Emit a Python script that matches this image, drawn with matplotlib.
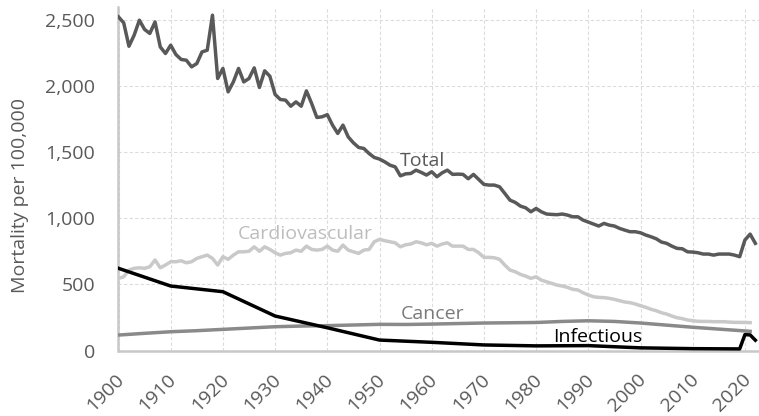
import matplotlib
matplotlib.use("Agg")
import matplotlib.pyplot as plt
import matplotlib.transforms as mtransforms
from matplotlib.ticker import FuncFormatter

plt.rcParams['font.family'] = ['Open Sans', 'DejaVu Sans']

# Age-adjusted mortality per 100,000, by year
total_years = list(range(1900, 2023))
total = [
    2525, 2480, 2303, 2387, 2500, 2430, 2400, 2487, 2298, 2248,
    2311, 2240, 2203, 2197, 2147, 2172, 2260, 2273, 2538, 2059,
    2135, 1958, 2033, 2135, 2033, 2059, 2139, 1991, 2117, 2076,
    1938, 1900, 1895, 1849, 1882, 1849, 1965, 1870, 1764, 1769,
    1785, 1706, 1643, 1706, 1617, 1572, 1537, 1529, 1491, 1461,
    1449, 1428, 1403, 1390, 1322, 1337, 1340, 1365, 1348, 1328,
    1353, 1315, 1345, 1365, 1333, 1335, 1333, 1300, 1333, 1295,
    1257, 1252, 1252, 1239, 1189, 1138, 1121, 1093, 1080, 1050,
    1075, 1050, 1033, 1030, 1028, 1033, 1025, 1012, 1012, 987,
    972, 957, 942, 962, 949, 942, 924, 911, 899, 899,
    891, 874, 861, 846, 821, 811, 790, 773, 770, 747,
    745, 740, 730, 730, 722, 730, 730, 730, 722, 710,
    836, 881, 811,
]

cardio_years = list(range(1900, 2022))
cardio = [
    546, 558, 609, 622, 626, 622, 634, 685, 626, 647,
    672, 672, 679, 664, 672, 697, 710, 722, 697, 647,
    710, 690, 722, 747, 747, 751, 785, 751, 785, 765,
    740, 722, 735, 740, 760, 751, 790, 765, 760, 765,
    790, 760, 751, 798, 760, 747, 735, 760, 765, 823,
    841, 831, 823, 815, 785, 800, 806, 823, 815, 800,
    811, 790, 806, 815, 790, 790, 790, 765, 765, 740,
    705, 705, 702, 690, 647, 609, 596, 576, 563, 546,
    558, 533, 520, 508, 495, 488, 478, 463, 458, 437,
    420, 407, 402, 400, 395, 387, 377, 367, 362, 352,
    339, 327, 312, 301, 286, 276, 261, 248, 241, 231,
    225, 221, 220, 220, 218, 218, 218, 215, 213, 213,
    212, 211,
]

cancer_years = [1900, 1905, 1910, 1915, 1920, 1925, 1930, 1935, 1940, 1945,
                1950, 1955, 1960, 1965, 1970, 1975, 1980, 1985, 1990, 1995,
                2000, 2005, 2010, 2015, 2020, 2021]
cancer = [117, 130, 142, 150, 160, 170, 180, 185, 188, 193,
          198, 197, 200, 204, 208, 210, 212, 220, 225, 220,
          208, 192, 176, 162, 148, 145]

infect_years = [1900, 1910, 1920, 1930, 1940, 1950, 1960, 1970, 1980, 1990,
                2000, 2010, 2019, 2020, 2021, 2022]
infect = [622, 488, 445, 261, 172, 79, 62, 42, 35, 37,
          20, 14, 12, 120, 118, 78]

x_ticks = list(range(1900, 2021, 10))
y_ticks = [0, 500, 1000, 1500, 2000, 2500]

W, H = 759, 416
fig = plt.figure(figsize=(W / 100, H / 100), dpi=100)
ax = fig.add_axes([118.5 / W, (H - 350.5) / H, 640.5 / W, 343.5 / H])

lw = 2.5
ax.plot(total_years, total, color='#595959', lw=lw, solid_joinstyle='round', zorder=3)
ax.plot(cardio_years, cardio, color='#c9c9c9', lw=lw, solid_joinstyle='round', zorder=3)
ax.plot(cancer_years, cancer, color='#8a8a8a', lw=lw, solid_joinstyle='round', zorder=4)
ax.plot(infect_years, infect, color='#000000', lw=lw, solid_joinstyle='round', zorder=5)

txt = dict(fontsize=14, ha='center', va='baseline')
ax.text(1958.3, 1398, 'Total', color='#595959', **txt)
ax.text(1935.7, 841, 'Cardiovascular', color='#bdbdbd', **txt)
ax.text(1960.2, 236, 'Cancer', color='#7a7a7a', **txt)
ax.text(1991.8, 64, 'Infectious', color='#000000', **txt)

ax.set_xlim(1900, 2022.7)
ax.set_ylim(0, 2600)
ax.set_xticks(x_ticks)
ax.set_yticks(y_ticks)
ax.yaxis.set_major_formatter(FuncFormatter(lambda v, p: f'{int(v):,}'))

ax.grid(True, color='#dcdcdc', lw=0.8, ls=(0, (3, 2)))
ax.set_axisbelow(True)
for s in ('top', 'right'):
    ax.spines[s].set_visible(False)
for s in ('left', 'bottom'):
    ax.spines[s].set_color('#c8c8c8')
    ax.spines[s].set_linewidth(1.8)

ax.tick_params(axis='both', length=0, labelsize=14, labelcolor='#595959')
ax.tick_params(axis='y', pad=17)
ax.tick_params(axis='x', pad=19)
offset = mtransforms.ScaledTranslation(3 / 100, 0, fig.dpi_scale_trans)
for lab in ax.get_xticklabels():
    lab.set_rotation(45)
    lab.set_ha('right')
    lab.set_va('center')
    lab.set_rotation_mode('anchor')
    lab.set_transform(lab.get_transform() + offset)

ax.set_ylabel('Mortality per 100,000', fontsize=14, color='#595959')
ax.yaxis.set_label_coords(-0.14, 0.45)

fig.savefig('out.png', dpi=100)
